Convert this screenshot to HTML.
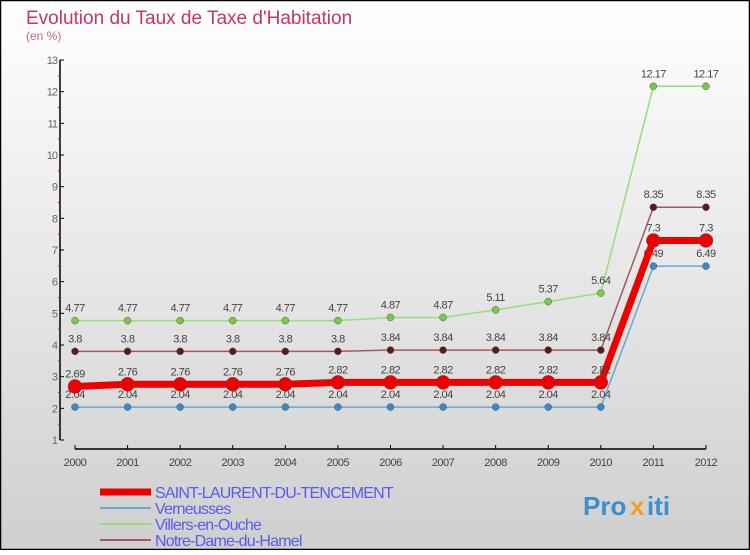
<!DOCTYPE html>
<html><head><meta charset="utf-8"><style>
body{margin:0;width:750px;height:550px;overflow:hidden;font-family:"Liberation Sans",sans-serif}
</style></head><body>
<svg width="750" height="550" xmlns="http://www.w3.org/2000/svg">
<defs><linearGradient id="bg" x1="0" y1="0" x2="0" y2="1"><stop offset="0" stop-color="#ffffff"/><stop offset="1" stop-color="#cfcfcf"/></linearGradient></defs>
<rect x="0.5" y="0.5" width="749" height="549" fill="url(#bg)" stroke="#000" stroke-width="1.5"/>
<text x="26" y="24" font-size="19" fill="#c8336a">Evolution du Taux de Taxe d'Habitation</text>
<text x="26" y="40" font-size="12" fill="#d0608a">(en %)</text>
<g id="axes"></g>
<g id="series"></g>
<g id="legend"></g>
<g font-size="26" font-weight="bold">
<text x="583" y="515" fill="#3a8fd0">Pro</text><text x="630" y="515" fill="#f0a020">x</text><text x="647" y="515" fill="#3a8fd0">iti</text>
</g>
</svg>
<script>
const years=[2000,2001,2002,2003,2004,2005,2006,2007,2008,2009,2010,2011,2012];
const saint=[2.69,2.76,2.76,2.76,2.76,2.82,2.82,2.82,2.82,2.82,2.82,7.3,7.3];
const vern=[2.04,2.04,2.04,2.04,2.04,2.04,2.04,2.04,2.04,2.04,2.04,6.49,6.49];
const villers=[4.77,4.77,4.77,4.77,4.77,4.77,4.87,4.87,5.11,5.37,5.64,12.17,12.17];
const notre=[3.8,3.8,3.8,3.8,3.8,3.8,3.84,3.84,3.84,3.84,3.84,8.35,8.35];
const yTicks=[1,2,3,4,5,6,7,8,9,10,11,12,13];
const NS='http://www.w3.org/2000/svg';
const X=i=>75+i*52.58, Y=v=>440-(v-1)*31.667;
function mk(t,a,p){const e=document.createElementNS(NS,t);for(const k in a)e.setAttribute(k,a[k]);p.appendChild(e);return e;}
const ax=document.getElementById('axes');
let l=mk('line',{x1:60,y1:60,x2:60,y2:440,stroke:'#000','stroke-width':1.5},ax);

l=mk('line',{x1:75,y1:449,x2:706,y2:449,stroke:'#000','stroke-width':1.5},ax);

yTicks.forEach(v=>{
 mk('line',{x1:60,y1:Y(v),x2:64,y2:Y(v),stroke:'#000'},ax);
 if(v<13)mk('line',{x1:58,y1:Y(v+0.5),x2:61,y2:Y(v+0.5),stroke:'#e00'},ax);
 const t=mk('text',{x:57,y:Y(v)+4,'text-anchor':'end','font-size':11,fill:'#666','letter-spacing':'-1'},ax);
 t.textContent=v;
});
years.forEach((y,i)=>{
 mk('line',{x1:X(i),y1:445,x2:X(i),y2:449,stroke:'#000'},ax);
 const t=mk('text',{x:X(i),y:466,'text-anchor':'middle','font-size':11,fill:'#444','letter-spacing':'-0.5'},ax);
 t.textContent=y;
});
const sg=document.getElementById('series');
function series(data,name,color,lw,r,dot,lab){
 const g=mk('g',{},sg);
 
 mk('polyline',{points:data.map((v,i)=>X(i)+','+Y(v)).join(' '),fill:'none',stroke:color,'stroke-width':lw},g);
 data.forEach((v,i)=>{
  const c=mk('circle',{cx:X(i),cy:Y(v),r:r,fill:dot,stroke:'#555','stroke-width':0.5},g);
  
  const t=mk('text',{x:X(i),y:Y(v)-9,'text-anchor':'middle','font-size':11,fill:lab,'letter-spacing':'-0.5'},g);
  t.textContent=v;
 });
}
series(vern,'verneusses-series','#6aa6d0',1.5,3.5,'#3a8ac8','#444');
series(villers,'villers-series','#99dd77',1.5,3.5,'#77cc44','#444');
series(notre,'notre-dame-series','#a05a5a',1.5,3.5,'#5a1a1a','#444');
series(saint,'saint-laurent-series','#ee0000',7,7,'#ee0000','#444');
const lg=document.getElementById('legend');
const names=['SAINT-LAURENT-DU-TENCEMENT','Verneusses','Villers-en-Ouche','Notre-Dame-du-Hamel'];
const cols=['#ee0000','#6aa6d0','#99dd77','#a05a5a'];const ws=[7,2,2,2];
names.forEach((n,i)=>{
 const y=492+i*16;
 const g=mk('g',{},lg);
 mk('line',{x1:100,y1:y,x2:151,y2:y,stroke:cols[i],'stroke-width':ws[i]},g);
 const t=mk('text',{x:155,y:y+6,'font-size':16,fill:'#5a5aee','letter-spacing':'-0.8'},g);t.textContent=n;
});
</script>
</body></html>
